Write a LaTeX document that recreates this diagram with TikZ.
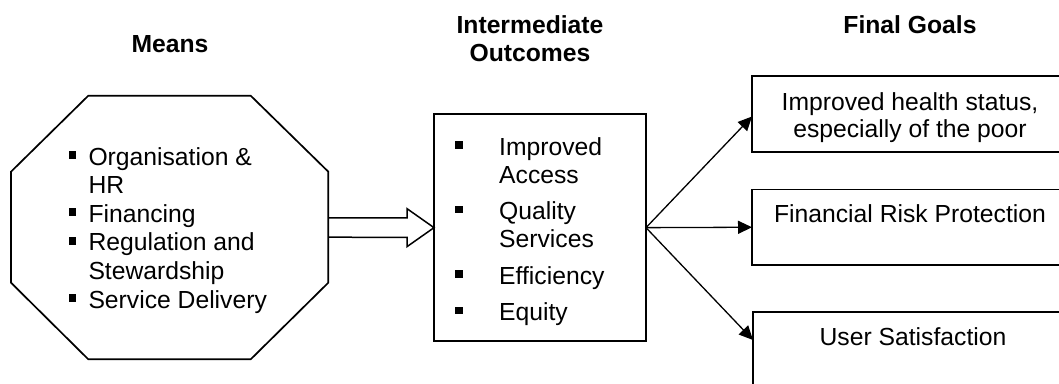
\documentclass[tikz,border=0pt]{standalone}
\usepackage{fontspec}
\setmainfont{Liberation Sans}
\usetikzlibrary{calc,arrows.meta}

% small square bullet set in a box of the given width
\newcommand\sqbul[1]{\makebox[#1][l]{\rule[6.2pt]{7.6pt}{7.6pt}}}
% centred lines whose first baseline is the box baseline
\newcommand\ctrlines[2][28.6pt]{\vtop{\baselineskip=#1\relax\halign{\hfil##\hfil\cr#2\crcr}}}

\begin{document}
\begin{tikzpicture}[x=1pt,y=-1pt,
  every node/.style={font=\fontsize{24.7}{28}\selectfont},
  heading/.style={anchor=base,inner sep=0pt,font=\fontsize{24.7}{28}\selectfont\bfseries},
  txt/.style={anchor=base,inner sep=0pt},
  list/.style={anchor=base west,inner sep=0pt},
  frame/.style={draw=black,line width=1.7pt,rectangle,inner sep=0pt,outer sep=0pt},
  ghost/.style={rectangle,inner sep=0pt,outer sep=0pt},
  outline/.style={draw=black,line width=1.7pt,line join=miter},
  link/.style={draw=black,line width=1.3pt,-{Triangle[length=14pt,width=13pt]}}]

\useasboundingbox (0,0) rectangle (1059,383);
\clip (0,0) rectangle (1059,383);
\fill[white] (0,0) rectangle (1059,383);

% column headings
\node[heading] (hmeans) at (170,52.7) {Means};
\node[heading] (hinter) at (530,33) {\ctrlines[28.7pt]{Intermediate\cr Outcomes}};
\node[heading] (hfinal) at (910,33) {Final Goals};

% means: octagon
\node[ghost,minimum width=317.3pt,minimum height=263.6pt] (oct) at (169.65,227.5) {};
\draw[outline] ($(oct.north west)+(77.3,0)$) -- ($(oct.north east)+(-77.6,0)$)
  -- ($(oct.north east)+(0,76)$) -- ($(oct.south east)+(0,-76.6)$)
  -- ($(oct.south east)+(-77.6,0)$) -- ($(oct.south west)+(77.3,0)$)
  -- ($(oct.south west)+(0,-76.6)$) -- ($(oct.north west)+(0,76)$) -- cycle;
\node[list] (meanslist) at (68.3,165) {\vtop{\baselineskip=28.6pt
  \hbox{\sqbul{20pt}Organisation \&}
  \hbox{\hskip20pt HR}
  \hbox{\sqbul{20pt}Financing}
  \hbox{\sqbul{20pt}Regulation and}
  \hbox{\hskip20pt Stewardship}
  \hbox{\sqbul{20pt}Service Delivery}}};

% intermediate outcomes box
\node[frame,minimum width=212pt,minimum height=226.7pt] (mid) at (540,227.65) {};
\node[list] (midlist) at (455,155) {\vtop{\baselineskip=28pt
  \hbox{\sqbul{44pt}Improved}
  \hbox{\hskip44pt Access}\vskip8.5pt
  \hbox{\sqbul{44pt}Quality}
  \hbox{\hskip44pt Services}\vskip8.5pt
  \hbox{\sqbul{44pt}Efficiency}\vskip8.5pt
  \hbox{\sqbul{44pt}Equity}}};

% block arrow from means to outcomes
\draw[outline,line width=1.5pt] ($(oct.east)+(0,-9.7)$) -- ($(mid.west)+(-27,-9.7)$)
  -- ($(mid.west)+(-27,-19)$) -- (mid.west) -- ($(mid.west)+(-27,19)$)
  -- ($(mid.west)+(-27,9.7)$) -- ($(oct.east)+(0,9.7)$);

% final goals boxes
\node[frame,minimum width=316pt,minimum height=76pt] (g1) at (910,114) {};
\node[frame,minimum width=316pt,minimum height=75.5pt] (g2) at (910,227.25) {};
\node[frame,minimum width=316pt,minimum height=76pt] (g3) at (911,350) {};

\node[txt] (t1) at ($(g1.north)+(0,34)$) {\ctrlines[27.7pt]{Improved health status,\cr especially of the poor}};
\node[txt] (t2) at ($(g2.north)+(0,33.2)$) {Financial Risk Protection};
\node[txt] (t3) at ($(g3.north)+(2,33)$) {User Satisfaction};

% connectors to the final goals
\draw[link] (mid.east) -- ($(g1.north west)+(0,40.5)$);
\draw[link] (mid.east) -- (g2.west);
\draw[link] (mid.east) -- ($(g3.north west)+(0,28)$);
\end{tikzpicture}
\end{document}
